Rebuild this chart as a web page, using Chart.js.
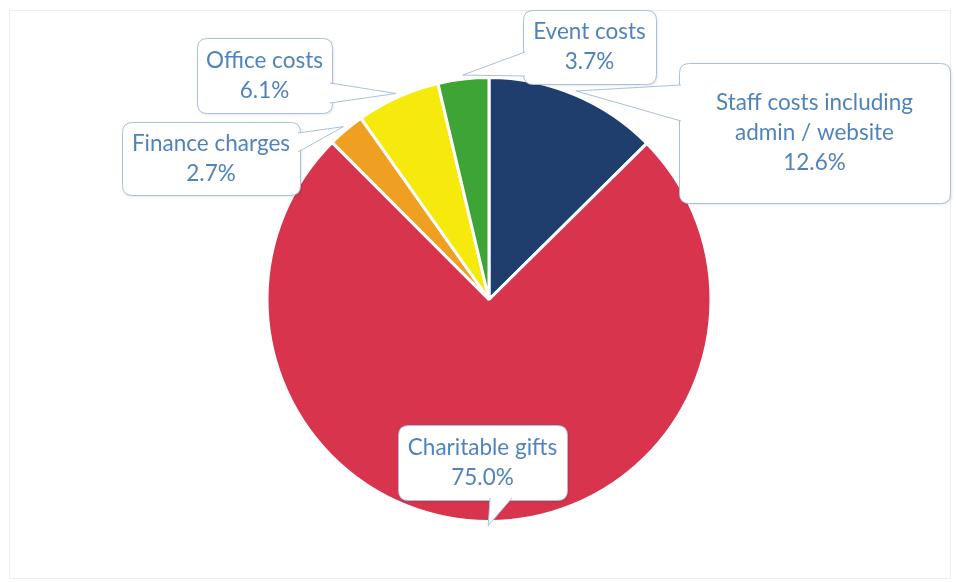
<!DOCTYPE html>
<html>
<head>
<meta charset="utf-8">
<script src="https://cdn.jsdelivr.net/npm/chart.js@4"></script>
<style>
  html, body { margin: 0; padding: 0; background: #fff; }
  #wrap { width: 956px; height: 583px; position: relative; }
</style>
</head>
<body>
<div id="wrap"><canvas id="pieChart"></canvas></div>
<script>
// datos del gráfico
const categories = ['Staff costs including\nadmin / website', 'Charitable gifts', 'Finance charges', 'Office costs', 'Event costs'];
const percentages = [12.6, 75.0, 2.7, 6.1, 3.7];
const sliceColors = ['#1f3d6d', '#d8344e', '#f0a020', '#f6ea0c', '#3fa436'];

// cajas de las etiquetas (x, y, ancho, alto) y base del pico
const calloutBoxes = [
    { x: 679, y: 63, w: 271, h: 140, base: [[681, 85], [681, 121]] },
    { x: 398, y: 425, w: 169, h: 75, base: [[490, 498], [512, 498]] },
    { x: 122, y: 122, w: 178, h: 73, base: [[298, 133], [298, 152]] },
    { x: 197, y: 38, w: 135, h: 75, base: [[330, 83], [330, 103]] },
    { x: 523, y: 10, w: 133, h: 74, base: [[525, 52], [525, 76]] }
];

function roundRect(ctx, x, y, w, h, r) {
    ctx.beginPath();
    ctx.moveTo(x + r, y);
    ctx.lineTo(x + w - r, y);
    ctx.quadraticCurveTo(x + w, y, x + w, y + r);
    ctx.lineTo(x + w, y + h - r);
    ctx.quadraticCurveTo(x + w, y + h, x + w - r, y + h);
    ctx.lineTo(x + r, y + h);
    ctx.quadraticCurveTo(x, y + h, x, y + h - r);
    ctx.lineTo(x, y + r);
    ctx.quadraticCurveTo(x, y, x + r, y);
    ctx.closePath();
}

// Plugin para marco y etiquetas tipo globo
const calloutPlugin = {
    id: 'callouts',
    beforeDraw(chart) {
        const ctx = chart.ctx;
        ctx.save();
        ctx.strokeStyle = '#eceef1';
        ctx.lineWidth = 1;
        ctx.strokeRect(9.5, 10.5, 941, 568);
        ctx.restore();
    },
    afterDraw(chart) {
        const ctx = chart.ctx;
        const arcs = chart.getDatasetMeta(0).data;
        ctx.save();
        arcs.forEach((arc, i) => {
            const b = calloutBoxes[i];
            const mid = (arc.startAngle + arc.endAngle) / 2;
            const tipR = arc.outerRadius + 4;
            const tip = [arc.x + Math.cos(mid) * tipR, arc.y + Math.sin(mid) * tipR];

            ctx.lineWidth = 1;
            ctx.strokeStyle = '#a9c0da';
            ctx.fillStyle = '#ffffff';

            // pico
            ctx.beginPath();
            ctx.moveTo(b.base[0][0], b.base[0][1]);
            ctx.lineTo(tip[0], tip[1]);
            ctx.lineTo(b.base[1][0], b.base[1][1]);
            ctx.closePath();
            ctx.fill();

            // caja
            ctx.shadowColor = 'rgba(0,0,0,0.12)';
            ctx.shadowBlur = 3;
            ctx.shadowOffsetX = 1;
            ctx.shadowOffsetY = 1;
            roundRect(ctx, b.x + 0.5, b.y + 0.5, b.w, b.h, 10);
            ctx.fill();
            ctx.shadowColor = 'transparent';
            ctx.stroke();

            // tapar la base y dibujar lados del pico
            ctx.beginPath();
            ctx.moveTo(b.base[0][0], b.base[0][1]);
            ctx.lineTo(tip[0], tip[1]);
            ctx.lineTo(b.base[1][0], b.base[1][1]);
            ctx.closePath();
            ctx.fill();
            ctx.beginPath();
            ctx.moveTo(b.base[0][0], b.base[0][1]);
            ctx.lineTo(tip[0], tip[1]);
            ctx.lineTo(b.base[1][0], b.base[1][1]);
            ctx.stroke();

            // texto
            const lines = categories[i].split('\n');
            lines.push(percentages[i].toFixed(1) + '%');
            ctx.fillStyle = '#5083bb';
            ctx.font = '22.5px Lato';
            ctx.textAlign = 'center';
            ctx.textBaseline = 'middle';
            const cx = b.x + b.w / 2;
            const cy = b.y + b.h / 2;
            const lh = 30;
            lines.forEach((t, k) => {
                ctx.fillText(t, cx, cy + (k - (lines.length - 1) / 2) * lh);
            });
        });
        ctx.restore();
    }
};

const pieCtx = document.getElementById('pieChart').getContext('2d');
new Chart(pieCtx, {
    type: 'pie',
    data: {
        labels: categories,
        datasets: [{
            data: percentages,
            backgroundColor: sliceColors,
            borderColor: '#ffffff',
            borderWidth: 3
        }]
    },
    options: {
        responsive: true,
        maintainAspectRatio: false,
        animation: false,
        layout: {
            padding: { top: 76, bottom: 60, left: 22, right: 0 }
        },
        plugins: {
            legend: { display: false },
            tooltip: { enabled: false }
        }
    },
    plugins: [calloutPlugin]
});
</script>
</body>
</html>
